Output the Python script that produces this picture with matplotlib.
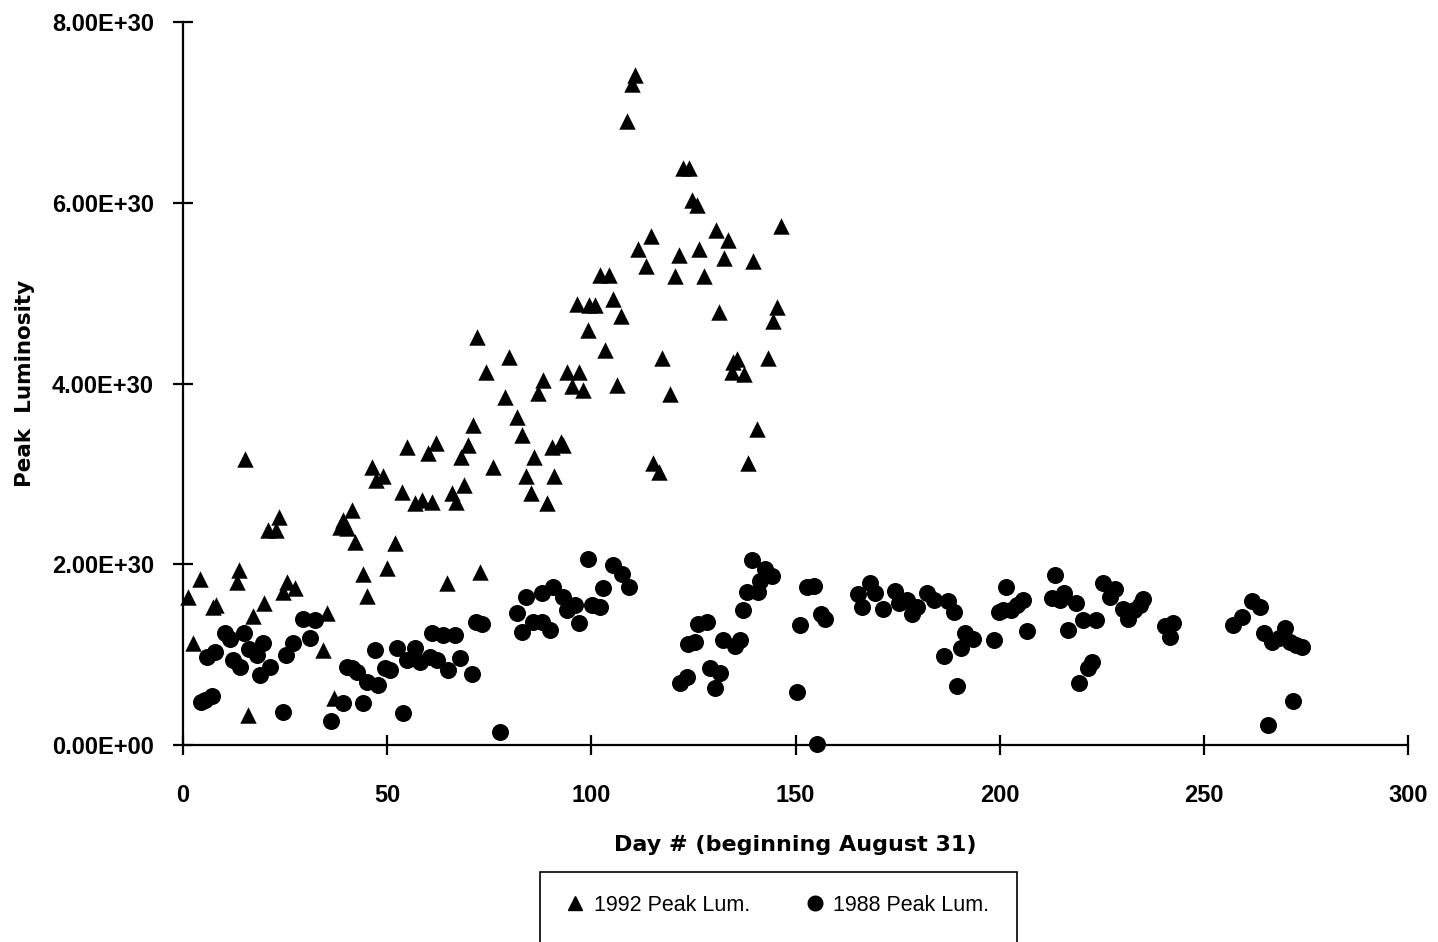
import matplotlib
matplotlib.use("Agg")
import matplotlib.pyplot as plt
from matplotlib.lines import Line2D
from matplotlib.ticker import FuncFormatter

# 1992 peak luminosity (units of 1e30) vs day number
days_1992 = [1.2, 2.4, 4.2, 7.4, 8.1, 13.2, 13.7, 15.2, 15.9, 17.1, 19.8, 20.8,
             22.8, 23.5, 24.5, 25.5, 27.4, 34.3, 35.3, 37.0, 38.5, 39.2, 40.1,
             41.4, 42.1, 44.1, 45.1, 46.3, 47.3, 49.0, 50.0, 51.9, 53.5, 54.9,
             56.8, 58.5, 60.0, 61.0, 62.0, 64.7, 65.9, 66.9, 68.1, 68.8, 69.8,
             71.0, 72.0, 72.7, 74.2, 75.9, 78.9, 79.8, 81.8, 83.0, 84.0, 85.2,
             86.0, 86.9, 88.2, 89.1, 90.4, 90.9, 92.6, 93.1, 94.0, 95.3, 96.5,
             97.0, 98.0, 99.2, 99.5, 101.0, 102.1, 103.4, 104.3, 105.3, 106.3,
             107.3, 108.7, 110.0, 110.7, 111.4, 113.4, 114.6, 115.2, 116.6,
             117.3, 119.3, 120.5, 121.5, 122.5, 123.9, 124.7, 125.9, 126.4,
             127.6, 130.5, 131.3, 132.5, 133.5, 134.4, 134.7, 135.7, 137.3,
             138.3, 139.6, 140.6, 143.3, 144.5, 145.5, 146.5]
lum_1992 = [1.64, 1.13, 1.84, 1.53, 1.55, 1.80, 1.94, 3.17, 0.33, 1.43, 1.57, 2.38,
            2.38, 2.52, 1.69, 1.80, 1.74, 1.05, 1.46, 0.52, 2.41, 2.49, 2.40,
            2.60, 2.25, 1.89, 1.65, 3.08, 2.93, 2.98, 1.96, 2.24, 2.80, 3.30,
            2.68, 2.71, 3.23, 2.69, 3.34, 1.79, 2.79, 2.69, 3.19, 2.88, 3.32,
            3.54, 4.51, 1.92, 4.13, 3.08, 3.85, 4.29, 3.63, 3.43, 2.98, 2.79,
            3.19, 3.89, 4.04, 2.68, 3.30, 2.98, 3.35, 3.32, 4.13, 3.97, 4.88,
            4.13, 3.93, 4.59, 4.87, 4.87, 5.20, 4.37, 5.20, 4.93, 3.98,
            4.75, 6.90, 7.31, 7.41, 5.49, 5.30, 5.63, 3.12, 3.02,
            4.28, 3.88, 5.19, 5.42, 6.38, 6.38, 6.03, 5.98, 5.49,
            5.19, 5.70, 4.79, 5.39, 5.59, 4.13, 4.24, 4.27, 4.10,
            3.12, 5.36, 3.50, 4.28, 4.69, 4.85, 5.74]

# 1988 peak luminosity (units of 1e30) vs day number
days_1988 = [4.4, 5.4, 7.1, 5.9, 7.8, 10.3, 11.5, 12.2, 14.0, 14.9, 16.2, 18.1,
             18.9, 19.6, 21.3, 24.5, 25.2, 27.0, 29.4, 31.1, 32.3, 36.2, 39.2,
             40.2, 41.4, 42.6, 44.1, 45.1, 47.0, 47.8, 49.5, 50.7, 52.4, 53.9,
             54.9, 56.8, 58.0, 60.5, 61.0, 62.2, 63.7, 64.9, 66.6, 67.8, 70.8,
             71.8, 73.2, 77.6, 81.8, 83.0, 84.0, 85.7, 87.9, 87.9, 89.9, 90.6,
             93.1, 94.0, 96.0, 97.0, 99.2, 100.2, 102.1, 102.9, 105.3, 107.5,
             109.2, 121.7, 123.4, 123.7, 125.4, 126.1, 128.3, 129.1, 130.3,
             131.5, 132.3, 135.2, 136.4, 137.2, 138.1, 139.4, 140.8, 141.3,
             142.5, 144.3, 150.3, 151.1, 152.7, 154.4, 155.2, 156.2, 157.2,
             165.4, 166.2, 168.3, 169.5, 171.4, 174.4, 175.4, 177.2, 178.5,
             179.7, 182.1, 183.8, 186.4, 187.4, 188.7, 189.5, 190.5, 191.5,
             193.4, 198.5, 199.7, 201.6, 200.8, 202.7, 204.2, 205.8, 206.6,
             212.8, 213.6, 214.8, 215.8, 216.6, 218.7, 219.5, 220.5, 221.5,
             222.6, 223.6, 225.4, 227.0, 228.3, 230.3, 231.3, 232.8, 234.4,
             235.2, 240.5, 241.6, 242.5, 257.2, 259.3, 261.8, 263.7, 264.6,
             265.8, 266.7, 268.3, 269.9, 271.1, 271.9, 272.6, 274.0]
lum_1988 = [0.48, 0.50, 0.54, 0.97, 1.03, 1.24, 1.17, 0.94, 0.86, 1.24, 1.06, 1.00,
            0.77, 1.13, 0.86, 0.37, 1.00, 1.13, 1.40, 1.18, 1.38, 0.27, 0.46,
            0.86, 0.85, 0.81, 0.46, 0.70, 1.05, 0.66, 0.85, 0.83, 1.07, 0.35,
            0.94, 1.07, 0.92, 0.97, 1.24, 0.94, 1.22, 0.83, 1.22, 0.96, 0.79,
            1.36, 1.34, 0.14, 1.46, 1.25, 1.64, 1.36, 1.36, 1.68, 1.27, 1.75,
            1.64, 1.49, 1.55, 1.35, 2.06, 1.55, 1.53, 1.74, 1.99, 1.89,
            1.75, 0.69, 0.75, 1.12, 1.14, 1.34, 1.36, 0.85, 0.63,
            0.80, 1.16, 1.10, 1.16, 1.49, 1.69, 2.05, 1.69, 1.82,
            1.95, 1.87, 0.59, 1.33, 1.75, 1.76, 0.01, 1.45, 1.39,
            1.67, 1.53, 1.79, 1.68, 1.51, 1.70, 1.57, 1.60, 1.45,
            1.53, 1.68, 1.60, 0.98, 1.59, 1.47, 0.65, 1.07, 1.24,
            1.17, 1.16, 1.47, 1.75, 1.49, 1.49, 1.55, 1.60, 1.26,
            1.63, 1.88, 1.60, 1.68, 1.27, 1.57, 0.69, 1.38, 0.85,
            0.92, 1.38, 1.79, 1.64, 1.73, 1.51, 1.39, 1.49, 1.55,
            1.62, 1.32, 1.20, 1.35, 1.33, 1.42, 1.59, 1.53, 1.24,
            0.22, 1.14, 1.18, 1.29, 1.14, 0.49, 1.11, 1.09]

scale = 1e30
yticks = [0, 2e30, 4e30, 6e30, 8e30]
xticks = [0, 50, 100, 150, 200, 250, 300]

fig = plt.figure(figsize=(14.38, 9.42), dpi=100)
ax = fig.add_axes([0.1273, 0.2091, 0.8519, 0.7675])

ax.scatter(days_1992, [v * scale for v in lum_1992], marker="^", s=140,
           color="black", linewidths=0, clip_on=False, zorder=3)
ax.scatter(days_1988, [v * scale for v in lum_1988], marker="o", s=150,
           color="black", linewidths=0, clip_on=False, zorder=3)

ax.set_xlim(0, 300)
ax.set_ylim(0, 8e30)
ax.set_xticks(xticks)
ax.set_yticks(yticks)
ax.yaxis.set_major_formatter(FuncFormatter(lambda v, p: "{:.2E}".format(v)))

for side in ["top", "right"]:
    ax.spines[side].set_visible(False)
for side in ["left", "bottom"]:
    ax.spines[side].set_linewidth(1.6)

ax.tick_params(axis="both", direction="inout", length=14, width=1.6)
ax.tick_params(axis="x", pad=21)
ax.tick_params(axis="y", pad=14)
for lbl in ax.get_xticklabels() + ax.get_yticklabels():
    lbl.set_fontfamily("Liberation Sans")
    lbl.set_fontweight("bold")
    lbl.set_fontsize(17)

ax.set_ylabel("Peak  Luminosity", fontsize=15.5, fontweight="bold",
              family="DejaVu Sans", labelpad=12)
ax.set_xlabel("Day # (beginning August 31)", fontsize=16, fontweight="bold",
              family="DejaVu Sans", labelpad=20)

# legend box, open at the bottom edge
box = plt.Rectangle((0.3755, -0.05), 0.3317, 0.1243, transform=fig.transFigure,
                    fill=False, edgecolor="black", linewidth=1.2, clip_on=False)
fig.add_artist(box)

handles = [Line2D([], [], marker="^", color="black", linestyle="none", markersize=10),
           Line2D([], [], marker="o", color="black", linestyle="none", markersize=10.5)]
fig.legend(handles, ["1992 Peak Lum.", "1988 Peak Lum."], loc="center",
           bbox_to_anchor=(0.541, 0.039), ncol=2, frameon=False,
           handlelength=0.8, handletextpad=0.45, columnspacing=2.6,
           prop={"family": "Liberation Sans", "size": 15.5})

fig.savefig("out.png", dpi=100)
